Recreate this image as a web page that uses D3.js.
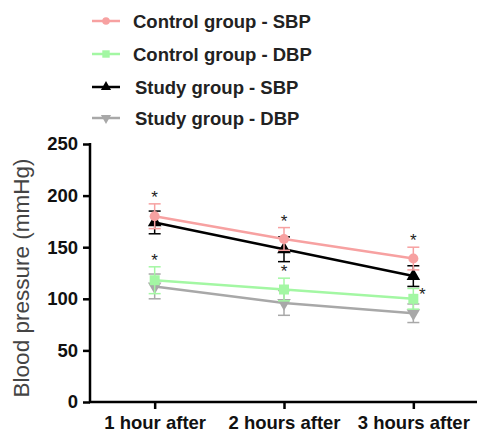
<!DOCTYPE html>
<html>
<head>
<meta charset="utf-8">
<script src="https://cdn.jsdelivr.net/npm/d3@7"></script>
<style>
body{margin:0;background:#fff}
text{font-family:"Liberation Sans",Arial,sans-serif}
</style>
</head>
<body>
<div id="chart"></div>
<script>
var categories = ["1 hour after","2 hours after","3 hours after"]
var seriesNames = ["Control group - SBP","Control group - DBP","Study group - SBP","Study group - DBP"]
var controlSBP = [180,158,139]
var controlSBPerr = [12,11,11]
var controlDBP = [118,109,100]
var controlDBPerr = [13,11,10]
var studySBP = [174,148,122]
var studySBPerr = [11,12,10]
var studyDBP = [112,96,86]
var studyDBPerr = [12,12,9]
var yTicks = [0,50,100,150,200,250]
// which points get a star: [series, category]
var stars = [[0,0],[0,1],[0,2],[1,0],[1,1],[1,2]]

var colors = ["#f7a1a1","#a3f7a3","#000000","#a8a8a8"]
var shapes = [d3.symbolCircle,d3.symbolSquare,d3.symbolTriangle,d3.symbolTriangle]

var series = [
	{name:seriesNames[0],values:controlSBP,err:controlSBPerr},
	{name:seriesNames[1],values:controlDBP,err:controlDBPerr},
	{name:seriesNames[2],values:studySBP,err:studySBPerr},
	{name:seriesNames[3],values:studyDBP,err:studyDBPerr}
]

var width = 477, height = 434
var svg = d3.select("#chart").append("svg").attr("width",width).attr("height",height)

var x = d3.scalePoint().domain(categories).range([90,478]).padding(0.5)
var y = d3.scaleLinear().domain([0,250]).range([402,144])

// axes
var yAxis = svg.append("g").attr("transform","translate(90,0)")
	.call(d3.axisLeft(y).tickValues(yTicks).tickSize(7).tickPadding(5))
yAxis.select(".domain").attr("stroke-width",2.5).attr("d","M0,143V403")
yAxis.selectAll(".tick line").attr("stroke-width",2.5)
yAxis.selectAll(".tick text").attr("font-size","18.5px").attr("font-weight","bold").attr("fill","#111")

var xAxis = svg.append("g").attr("transform","translate(0,402)")
	.call(d3.axisBottom(x).tickSize(7).tickPadding(7))
xAxis.select(".domain").attr("stroke-width",2.5).attr("d","M89,0H478")
xAxis.selectAll(".tick line").attr("stroke-width",2.5)
xAxis.selectAll(".tick text").attr("font-size","18.5px").attr("font-weight","bold").attr("fill","#111")

svg.append("text")
	.attr("transform","translate(29,278) rotate(-90)")
	.attr("text-anchor","middle")
	.attr("font-size","22.5px")
	.attr("fill","#444")
	.text("Blood pressure (mmHg)")

function symbolPath(i,size){
	return d3.symbol().type(shapes[i]).size(size)()
}

// draw back to front
var order = [3,1,2,0]
order.forEach(function(i){
	var s = series[i]
	var g = svg.append("g")
	var line = d3.line().x(function(d,j){return x(categories[j])}).y(function(d){return y(d)})
	g.append("path").attr("d",line(s.values)).attr("fill","none")
		.attr("stroke",colors[i]).attr("stroke-width",2.5)
	s.values.forEach(function(v,j){
		var cx = x(categories[j])
		var e = s.err[j]
		g.append("line").attr("x1",cx).attr("x2",cx).attr("y1",y(v+e)).attr("y2",y(v-e))
			.attr("stroke",colors[i]).attr("stroke-width",1.5)
		;[v+e,v-e].forEach(function(t){
			g.append("line").attr("x1",cx-6).attr("x2",cx+6).attr("y1",y(t)).attr("y2",y(t))
				.attr("stroke",colors[i]).attr("stroke-width",1.5)
		})
		g.append("path").attr("d",symbolPath(i,i==1?100:80))
			.attr("transform","translate("+cx+","+y(v)+")"+(i==3?" rotate(180)":""))
			.attr("fill",colors[i])
	})
})

stars.forEach(function(p){
	var s = series[p[0]]
	var j = p[1]
	var cx = x(categories[j])
	var top = y(s.values[j]+s.err[j])
	var sx = cx, sy = top - 7
	if(p[0]==1 && j==2){ sx = cx+9; sy = y(s.values[j])-5 }
	svg.append("text").attr("x",sx).attr("y",sy+6)
		.attr("text-anchor","middle").attr("font-size","17px").attr("fill","#222")
		.text("*")
})

// legend
var legend = svg.append("g")
series.forEach(function(s,i){
	var ly = [21,54,87,118][i]
	legend.append("line").attr("x1",92).attr("x2",120).attr("y1",ly).attr("y2",ly)
		.attr("stroke",colors[i]).attr("stroke-width",2.5)
	legend.append("path").attr("d",symbolPath(i,i==1?55:45))
		.attr("transform","translate(106,"+ly+")"+(i==3?" rotate(180)":""))
		.attr("fill",colors[i])
	legend.append("text").attr("x",i<2?133:135).attr("y",ly+6.5)
		.attr("font-size","18.5px").attr("font-weight","bold").attr("fill","#222")
		.text(s.name)
})
</script>
</body>
</html>
